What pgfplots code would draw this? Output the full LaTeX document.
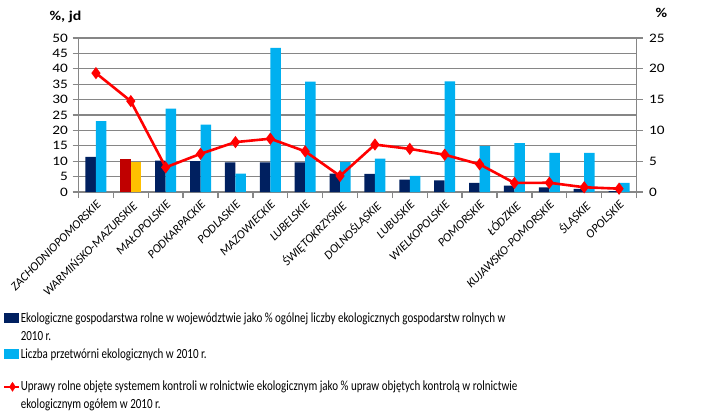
\documentclass[border=0pt]{standalone}
\usepackage{fontspec}
\setmainfont{Carlito}
\newfontfamily\tickfont{Carlito}[FakeStretch=1.18]
\newfontfamily\legfont{Carlito}[FakeStretch=0.79]
\usepackage{pgfplots}
\pgfplotsset{compat=1.18}
\definecolor{darkbar}{HTML}{002060}
\definecolor{lightbar}{HTML}{00B0F0}
\definecolor{hired}{HTML}{C00000}
\definecolor{hiyel}{HTML}{FFC000}
\definecolor{linered}{HTML}{FF0000}
\definecolor{gridgray}{HTML}{868686}

\pgfplotsset{
  common/.style={
    scale only axis, width=558bp, height=154bp,
    at={(78.5bp,-192bp)}, anchor=south west,
    xmin=-0.5, xmax=15.5, ymin=0,
    /pgf/number format/assume math mode=true,
    axis line style={-, draw=gridgray, line width=1.3bp},
    tick style={draw=gridgray, line width=1.3bp},
    tick align=outside, major tick length=6bp, minor tick length=6bp,
    ticklabel style={font=\tickfont\fontsize{13}{15}\selectfont},
  },
  darkleg/.style={legend image code/.code={\fill[darkbar] (0bp,-0.5bp) rectangle (15bp,9.5bp);}},
  lightleg/.style={legend image code/.code={\fill[lightbar] (0bp,-0.5bp) rectangle (15bp,9.5bp);}},
  lineleg/.style={legend image code/.code={\draw[linered, line width=2.6bp] (0bp,4bp) -- (15bp,4bp);
    \fill[linered] (8bp,-0.5bp) -- (11bp,4bp) -- (8bp,8.5bp) -- (5bp,4bp) -- cycle;}},
}

\begin{document}
\begin{tikzpicture}
\path[use as bounding box] (0,0) rectangle (712bp,-419bp);

\begin{axis}[common,
  ymax=50, ytick={0,5,...,50},
  axis x line*=bottom, axis y line*=left,
  ytick pos=left, xtick pos=bottom,
  ymajorgrids, grid style={gridgray, line width=1.3bp},
  xtick={0,...,15},
  major x tick style={draw=none},
  minor xtick={-0.5,0.5,...,15.5},
  xticklabels={ZACHODNIOPOMORSKIE,WARMIŃSKO-MAZURSKIE,MAŁOPOLSKIE,PODKARPACKIE,PODLASKIE,MAZOWIECKIE,LUBELSKIE,ŚWIĘTOKRZYSKIE,DOLNOŚLĄSKIE,LUBUSKIE,WIELKOPOLSKIE,POMORSKIE,ŁÓDZKIE,KUJAWSKO-POMORSKIE,ŚLĄSKIE,OPOLSKIE},
  xticklabel style={rotate=45, anchor=north east, inner sep=1bp, font=\fontsize{12.3}{13}\selectfont\itshape},
  yticklabel style={xshift=-1bp},
  legend style={at={(-75.5bp,-118bp)}, anchor=north west, draw=none, fill=none,
    inner xsep=0pt, inner ysep=0pt,
    font=\legfont\fontsize{14}{18}\selectfont, row sep=0pt, column sep=0pt,
    cells={anchor=base west},
    nodes={inner sep=0pt, text height=12.6bp, text depth=5.4bp}},
]
\addplot[ybar, bar width=10.5bp, bar shift=-5.25bp, fill=darkbar, draw=none, darkleg] coordinates {
  (0,11.4) (2,10.2) (3,10.0) (4,9.6) (5,9.6) (6,9.6) (7,6.0) (8,5.9)
  (9,4.0) (10,3.8) (11,3.0) (12,2.1) (13,1.5) (14,1.0) (15,0.3)};
\addlegendentry{Ekologiczne gospodarstwa rolne w województwie jako \% ogólnej liczby ekologicznych gospodarstw rolnych w}
\addlegendimage{empty legend}
\addlegendentry{2010 r.}
\addplot[ybar, bar width=10.5bp, bar shift=5.25bp, fill=lightbar, draw=none, lightleg] coordinates {
  (0,23.0) (2,27.1) (3,21.9) (4,6.0) (5,46.8) (6,35.8) (7,9.8) (8,10.8)
  (9,5.2) (10,35.9) (11,14.9) (12,15.9) (13,12.7) (14,12.7) (15,3.0)};
\addlegendentry{Liczba przetwórni ekologicznych w 2010 r.}
\addplot[ybar, bar width=10.5bp, bar shift=-5.25bp, fill=hired, draw=none, forget plot] coordinates {(1,10.8)};
\addplot[ybar, bar width=10.5bp, bar shift=5.25bp, fill=hiyel, draw=none, forget plot] coordinates {(1,9.8)};
\addlegendimage{empty legend}
\addlegendentry[text height=8.6bp]{}
\addlegendimage{lineleg}
\addlegendentry{Uprawy rolne objęte systemem kontroli w rolnictwie ekologicznym jako \% upraw objętych kontrolą w rolnictwie}
\addlegendimage{empty legend}
\addlegendentry{ekologicznym ogółem w 2010 r.}
\end{axis}

\begin{axis}[common,
  ymax=25, ytick={0,5,...,25},
  axis y line*=right, axis x line=none,
  ytick pos=right, yticklabel pos=right,
  yticklabel style={xshift=3bp},
  xtick=\empty,
]
\addplot[linered, line width=2.6bp, mark=diamond*, mark size=4bp] coordinates {
  (0,19.3) (1,14.75) (2,4.0) (3,6.2) (4,8.1) (5,8.65) (6,6.6) (7,2.6)
  (8,7.7) (9,7.0) (10,6.05) (11,4.5) (12,1.47) (13,1.5) (14,0.77) (15,0.54)};
\end{axis}

\node[anchor=west, font=\tickfont\fontsize{13.5}{15}\selectfont\bfseries] at (46bp,-17bp) {\%, jd};
\node[anchor=west, font=\tickfont\fontsize{13.5}{15}\selectfont\bfseries] at (652bp,-13bp) {\%};
\end{tikzpicture}
\end{document}
